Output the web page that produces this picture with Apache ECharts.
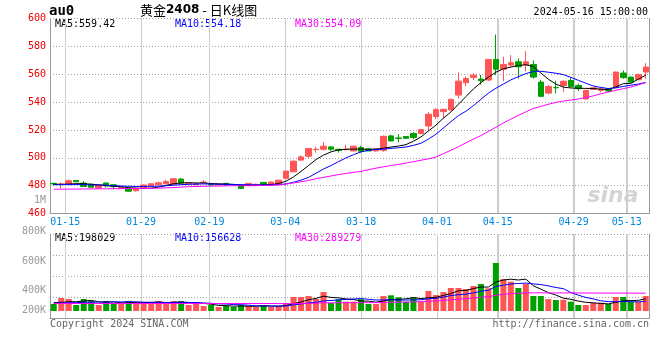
<!DOCTYPE html>
<html><head><meta charset="utf-8">
<script src="https://cdn.jsdelivr.net/npm/echarts@6/dist/echarts.min.js"></script>
<style>html,body{margin:0;padding:0;background:#fff}#c{width:660px;height:360px}</style>
</head><body><div id="c"></div>
<script>
const dates = ['01-11','01-12','01-15','01-16','01-17','01-18','01-19','01-22','01-23','01-24','01-25','01-26','01-29','01-30','01-31',
'02-01','02-02','02-05','02-06','02-07','02-08','02-19','02-20','02-21','02-22','02-23','02-26','02-27','02-28','02-29',
'03-01','03-04','03-05','03-06','03-07','03-08','03-11','03-12','03-13','03-14','03-15','03-18','03-19','03-20','03-21','03-22','03-25','03-26','03-27','03-28','03-29',
'04-01','04-02','04-03','04-08','04-09','04-10','04-11','04-12','04-15','04-16','04-17','04-18','04-19','04-22','04-23','04-24','04-25','04-26','04-29','04-30',
'05-06','05-07','05-08','05-09','05-10','05-13','05-14','05-15','05-16'];
const tickDates = ['01-15','01-29','02-19','03-04','03-18','04-01','04-15','04-29','05-13'];

const openP = [481.7,481.0,481.0,483.8,481.9,481.2,478.4,482.0,480.7,478.0,
478.2,476.4,478.8,480.0,480.7,481.4,481.2,484.8,481.4,480.7,
482.3,481.0,480.6,481.7,480.9,480.0,480.2,480.8,482.4,480.8,
481.0,485.3,490.0,498.4,501.2,505.9,506.2,507.9,506.2,505.9,
505.0,507.4,506.4,505.0,505.5,515.8,514.3,515.3,517.5,517.5,
522.9,529.7,533.2,534.4,545.1,554.0,557.8,556.6,555.9,570.7,
563.7,566.6,569.0,566.6,567.1,554.4,546.5,550.6,552.0,555.6,
552.0,542.3,549.2,548.5,549.7,550.4,560.9,558.0,556.1,561.6];
const closeP = [481.3,481.3,483.6,482.8,479.5,478.9,480.3,479.8,479.4,478.8,
476.1,478.4,480.5,481.4,482.1,483.1,485.0,481.9,481.8,481.4,
482.6,480.5,481.2,480.5,480.6,478.1,481.7,481.0,480.6,482.6,
484.0,490.5,497.6,500.7,506.7,506.2,508.4,506.2,505.3,506.2,
508.4,504.7,505.0,506.4,515.5,512.2,514.0,514.1,514.6,520.3,
531.3,534.6,534.9,542.0,555.1,557.0,559.4,555.4,570.7,563.7,
567.0,568.3,565.4,569.0,558.0,544.2,551.3,550.3,555.0,551.3,
549.7,548.5,550.3,549.5,548.0,561.6,557.6,554.4,559.8,565.2];
const lowP = [479.8,478.1,480.8,482.6,479.3,478.8,478.2,478.8,477.4,477.6,
475.6,475.8,478.6,479.8,480.5,481.2,481.0,481.5,481.0,480.5,
481.5,480.2,480.4,480.3,480.2,477.6,480.0,480.3,480.4,480.6,
480.8,485.0,489.8,498.0,500.0,503.7,505.3,505.0,503.8,505.5,
504.8,503.7,504.8,504.6,504.3,511.8,511.2,513.5,513.5,517.0,
519.7,527.8,528.0,534.0,542.8,551.4,556.0,552.5,555.2,559.4,
555.1,565.0,557.0,562.0,556.9,543.7,545.6,546.3,547.3,550.5,
548.0,542.0,548.8,547.0,547.3,550.0,556.8,554.0,556.0,556.8];
const highP = [482.2,482.3,484.5,484.0,483.4,481.3,480.5,482.2,480.9,479.2,
478.4,478.6,480.8,481.6,483.0,484.2,485.3,485.6,482.2,481.6,
484.0,481.4,481.5,482.0,481.2,480.2,481.9,481.5,482.6,483.2,
484.3,490.8,498.2,501.8,507.0,508.1,511.3,508.3,506.5,509.4,
508.6,508.7,507.0,506.6,516.0,516.7,517.0,515.6,518.4,520.6,
533.0,535.8,535.2,542.5,561.4,558.7,561.0,559.5,570.8,588.6,
572.6,573.8,571.4,576.6,570.0,556.0,552.2,555.4,555.6,557.5,
553.3,548.6,550.6,550.5,549.9,562.0,562.8,558.4,560.6,568.0];

const ma5 = [481.0,481.0,481.2,481.5,481.5,481.0,480.7,480.2,479.6,479.3,
478.6,478.2,478.0,478.3,479.0,480.3,481.4,482.0,482.2,482.0,
482.0,481.6,481.3,481.2,481.0,480.2,480.3,480.3,480.4,480.8,
481.6,483.3,486.3,490.3,494.5,498.8,502.0,504.3,505.8,506.2,
506.3,506.3,506.2,506.3,507.0,507.8,508.5,509.5,512.0,515.0,
519.3,523.5,528.5,533.0,538.5,544.0,549.5,554.0,558.0,561.5,
564.0,565.2,566.3,566.9,565.5,561.0,556.5,553.0,550.8,550.2,
550.0,549.9,549.8,549.3,549.0,551.0,553.3,553.5,556.5,559.4];
const ma10 = [480.8,480.8,480.8,480.9,480.8,480.6,480.5,480.3,480.0,479.8,
479.6,479.5,479.5,479.6,479.7,480.0,480.4,480.8,481.0,481.2,
481.3,481.2,481.1,481.0,480.9,480.8,480.7,480.6,480.6,480.6,
480.8,481.3,482.5,484.0,486.0,489.0,492.0,494.5,497.3,500.0,
502.3,504.3,505.4,506.0,506.3,506.8,507.3,507.8,509.0,510.5,
513.5,517.0,521.5,526.0,530.3,533.5,537.5,542.0,546.5,550.0,
553.0,556.0,558.3,560.5,562.0,562.2,561.5,560.8,559.8,557.8,
555.7,553.6,551.6,550.6,549.8,550.3,551.3,552.2,553.0,554.2];
const ma30 = [477.5,477.5,477.6,477.6,477.7,477.7,477.8,477.8,477.9,477.9,
478.0,478.0,478.1,478.2,478.3,478.5,478.7,479.0,479.3,479.5,
479.6,479.7,479.8,479.9,480.0,480.0,480.0,480.1,480.2,480.3,
480.6,481.2,482.0,482.8,483.8,485.0,486.0,487.0,488.0,488.8,
489.6,490.3,491.5,492.6,493.6,494.5,495.3,496.3,497.3,498.3,
499.3,500.6,503.0,505.5,508.0,510.8,513.5,516.0,519.0,522.0,
525.0,527.8,530.5,533.0,535.5,537.0,538.5,539.8,540.8,541.5,
542.3,543.3,544.5,546.0,547.3,548.5,549.7,550.8,552.4,554.1];

const volume = [113000,211000,194000,97000,194000,162000,97000,162000,130000,113000,
162000,146000,146000,113000,162000,113000,162000,162000,97000,113000,
81000,97000,65000,81000,65000,97000,81000,65000,97000,65000,
81000,130000,227000,227000,243000,194000,308000,130000,190000,151000,
151000,190000,113000,113000,243000,254000,222000,151000,222000,151000,
324000,259000,308000,373000,373000,356000,405000,437000,368000,778000,
518000,475000,373000,437000,243000,243000,194000,178000,183000,151000,
97000,97000,134000,134000,113000,227000,227000,146000,146000,243000];
const volMa5 = [135,140,150,150,161.8,171.6,148.8,142.4,149,132.8,
132.8,142.6,139.4,136,145.8,136,139.2,142.4,139.2,129.4,
123,110,90.6,87.4,77.8,81,77.8,77.8,81,81,
77.8,87.6,120,146,181.6,204.2,239.8,220.4,213,194.6,
186,162.4,159,143.6,162,182.6,189,196.6,218.4,200,
214,221.4,252.8,283,327.4,333.8,363,388.8,387.8,468.8,
501.2,515.2,502.4,516.2,409.2,354.2,298,259,208.2,189.8,
160.6,141.2,132.4,122.6,115,141,167,169.4,171.8,198];
const volMa10 = [125,128,132,135,140,143,145,146,147,147.3,
152.2,145.7,140.9,142.5,139.3,134.4,140.9,140.9,137.6,137.6,
129.5,124.6,116.5,113.3,103.6,102,93.9,84.2,84.2,79.4,
79.4,82.7,98.9,113.5,131.3,141,163.7,170.2,179.5,188.1,
195.1,201.1,189.7,178.3,178.3,184.3,175.7,177.8,181,181,
198.3,205.2,224.7,250.7,263.7,273.9,292.2,320.8,335.4,398.1,
417.5,439.1,445.6,452,439,427.7,406.6,380.7,362.2,299.5,
257.4,219.6,195.7,165.4,152.4,150.8,154.1,150.9,147.2,156.6];
const volMa30 = [122,122,122,122,122,122,122,122,122,122,
122,122,122,122,122,122,122,122,121,121,
121,121,121,121,121,121,121,121,121,121.4,
120.4,117.7,118.8,123.1,124.7,125.8,132.8,131.8,133.8,135,
134.7,136.1,135,135,137.7,142.4,144.4,144.1,148.2,149.5,
157.6,163,171.1,180.8,191.1,199.7,210.5,222.9,232,255.7,
270.3,281.8,286.7,293.7,293.7,295.3,291.5,293.1,292.9,292.9,
292,291,291,291,290,290,290,289.5,289,289.3];

const priceMin = 460, priceMax = 600, priceStep = 20;
const volTickLabels = ['', '200K', '400K', '600K', '800K'];
const volPerPixel = 16200;

const RED = '#ff5555', GREEN = '#00a000';
const MONO = '"DejaVu Sans Mono", monospace';
const GRID_C = '#a0a0a0', AXIS_C = '#999999', VGRID_C = '#cccccc';

const candleData = openP.map((o, i) => [o, closeP[i], lowP[i], highP[i]]);
const volData = volume.map((v, i) => ({value: v, itemStyle: {color: closeP[i] >= openP[i] ? RED : GREEN}}));
const k = a => a.map(v => v * 1000);
const tickIdx = tickDates.map(d => dates.indexOf(d));
const isTick = (idx) => tickIdx.indexOf(idx) >= 0;

const chart = echarts.init(document.getElementById('c'), null, {renderer: 'canvas'});
const dotted = {color: GRID_C, type: [1, 2], width: 1};
const vSplit = {show: true, interval: (i) => isTick(i), lineStyle: {color: VGRID_C, type: 'solid', width: 1}};

const textGraphics = [
  {type: 'text', x: 49, y: 11.5, style: {text: 'au0', font: 'bold 14px ' + MONO, fill: '#000', textVerticalAlign: 'middle'}},
  {type: 'text', x: 140, y: 10, style: {text: '{a|黄金}{b|2408}{a| - 日K线图}', textVerticalAlign: 'middle',
    rich: {a: {fontFamily: '"Noto Sans CJK SC"', fontSize: 13, color: '#000'},
           b: {fontFamily: '"DejaVu Sans"', fontSize: 12, fontWeight: 'bold', color: '#666'}}}},
  {type: 'text', x: 648, y: 12.3, style: {text: '2024-05-16 15:00:00', font: '10px ' + MONO, fill: '#000', textAlign: 'right', textVerticalAlign: 'middle'}},
  {type: 'text', x: 55, y: 24, style: {text: 'MA5:559.42', font: '10px ' + MONO, fill: '#000', textVerticalAlign: 'middle'}},
  {type: 'text', x: 175, y: 24, style: {text: 'MA10:554.18', font: '10px ' + MONO, fill: '#0000ff', textVerticalAlign: 'middle'}},
  {type: 'text', x: 295, y: 24, style: {text: 'MA30:554.09', font: '10px ' + MONO, fill: '#ff00ff', textVerticalAlign: 'middle'}},
  {type: 'text', x: 46, y: 200, style: {text: '1M', font: '10px ' + MONO, fill: '#999', textAlign: 'right', textVerticalAlign: 'middle'}},
  {type: 'text', x: 613, y: 196, style: {text: 'sina', font: 'italic bold 22px "DejaVu Sans"', fill: '#d4d4d4', textAlign: 'center', textVerticalAlign: 'middle'}},
  {type: 'text', x: 55, y: 238.5, style: {text: 'MA5:198029', font: '10px ' + MONO, fill: '#000', textVerticalAlign: 'middle'}},
  {type: 'text', x: 175, y: 238.5, style: {text: 'MA10:156628', font: '10px ' + MONO, fill: '#0000ff', textVerticalAlign: 'middle'}},
  {type: 'text', x: 295, y: 238.5, style: {text: 'MA30:289279', font: '10px ' + MONO, fill: '#ff00ff', textVerticalAlign: 'middle'}},
  {type: 'text', x: 50, y: 324, style: {text: 'Copyright 2024 SINA.COM', font: '10px ' + MONO, fill: '#666', textVerticalAlign: 'middle'}},
  {type: 'text', x: 649, y: 324, style: {text: 'http://finance.sina.com.cn', font: '10px ' + MONO, fill: '#666', textAlign: 'right', textVerticalAlign: 'middle'}}
];

const option = {
  animation: false,
  backgroundColor: '#fff',
  grid: [
    {left: 50, top: 18.6, width: 599.5, height: 195},
    {left: 50, top: 234, width: 599.5, height: 84}
  ],
  xAxis: [
    {type: 'category', gridIndex: 0, position: 'bottom', data: dates, boundaryGap: true, show: false},
    {type: 'category', gridIndex: 0, position: 'bottom', data: dates, boundaryGap: false,
      axisLine: {show: true, onZero: false, lineStyle: {color: AXIS_C}},
      axisTick: {show: false, interval: (i) => isTick(i)},
      axisLabel: {interval: (i) => isTick(i), color: '#0088dd', fontFamily: MONO, fontSize: 10, margin: 4, hideOverlap: false},
      splitLine: vSplit},
    {type: 'category', gridIndex: 1, position: 'bottom', data: dates, boundaryGap: true, show: false},
    {type: 'category', gridIndex: 1, position: 'bottom', data: dates, boundaryGap: false,
      axisLine: {show: true, onZero: false, lineStyle: {color: AXIS_C}},
      axisTick: {show: false, interval: (i) => isTick(i)},
      axisLabel: {show: false, interval: (i) => isTick(i)}, splitLine: vSplit}
  ],
  yAxis: [
    {type: 'value', gridIndex: 0, min: priceMin, max: priceMax, interval: priceStep, position: 'left',
      axisLine: {show: true, lineStyle: {color: AXIS_C}}, axisTick: {show: false},
      axisLabel: {color: '#ee0000', fontFamily: MONO, fontSize: 10, margin: 4},
      splitLine: {show: true, lineStyle: dotted}},
    {type: 'value', gridIndex: 0, min: priceMin, max: priceMax, interval: priceStep, position: 'right',
      axisLine: {show: true, lineStyle: {color: AXIS_C}}, axisTick: {show: false},
      axisLabel: {show: false}, splitLine: {show: false}},
    {type: 'value', gridIndex: 1, min: 0, max: 4, interval: 1, position: 'left',
      axisLine: {show: true, lineStyle: {color: AXIS_C}}, axisTick: {show: false},
      axisLabel: {margin: 4, color: '#999', fontFamily: MONO, fontSize: 10,
        formatter: (v) => volTickLabels[v] ? '{l' + v + '|' + volTickLabels[v] + '}' : '',
        rich: {
          l1: {color: '#999', fontFamily: MONO, fontSize: 10, padding: [26, 0, 0, 0]},
          l2: {color: '#999', fontFamily: MONO, fontSize: 10, padding: [28, 0, 0, 0]},
          l3: {color: '#999', fontFamily: MONO, fontSize: 10, padding: [12, 0, 0, 0]},
          l4: {color: '#999', fontFamily: MONO, fontSize: 10, padding: [0, 0, 6, 0]}
        }},
      splitLine: {show: true, lineStyle: dotted}},
    {type: 'value', gridIndex: 1, min: -7 * volPerPixel, max: 77 * volPerPixel, position: 'right',
      axisLine: {show: true, lineStyle: {color: AXIS_C}}, axisTick: {show: false},
      axisLabel: {show: false}, splitLine: {show: false}}
  ],
  series: [
    {type: 'candlestick', xAxisIndex: 0, yAxisIndex: 0, data: candleData, barWidth: 6, z: 3,
      itemStyle: {color: RED, color0: GREEN, borderColor: RED, borderColor0: GREEN, borderWidth: 1}},
    {type: 'line', xAxisIndex: 0, yAxisIndex: 0, data: ma5, symbol: 'none', z: 4, lineStyle: {color: '#000', width: 1}},
    {type: 'line', xAxisIndex: 0, yAxisIndex: 0, data: ma10, symbol: 'none', z: 4, lineStyle: {color: '#0000ff', width: 1}},
    {type: 'line', xAxisIndex: 0, yAxisIndex: 0, data: ma30, symbol: 'none', z: 4, lineStyle: {color: '#ff00ff', width: 1}},
    {type: 'bar', xAxisIndex: 2, yAxisIndex: 3, data: volData, barWidth: 6, z: 3},
    {type: 'line', xAxisIndex: 2, yAxisIndex: 3, data: k(volMa5), symbol: 'none', z: 4, lineStyle: {color: '#000', width: 1}},
    {type: 'line', xAxisIndex: 2, yAxisIndex: 3, data: k(volMa10), symbol: 'none', z: 4, lineStyle: {color: '#0000ff', width: 1}},
    {type: 'line', xAxisIndex: 2, yAxisIndex: 3, data: k(volMa30), symbol: 'none', z: 4, lineStyle: {color: '#ff00ff', width: 1}}
  ],
  graphic: textGraphics
};
chart.setOption(option);

// extra safeguard: vertical grid lines placed with the axes' own scales
try {
  const px = (finder, v) => { let p = chart.convertToPixel(finder, v); if (Array.isArray(p)) p = p[0]; return p; };
  const lineGraphics = [];
  const panels = [
    {x: {xAxisIndex: 1}, y: {yAxisIndex: 0}, lo: priceMin, hi: priceMax},
    {x: {xAxisIndex: 3}, y: {yAxisIndex: 2}, lo: 0, hi: volTickLabels.length - 1}
  ];
  panels.forEach(pn => {
    const yTop = Math.round(px(pn.y, pn.hi));
    const yBot = Math.round(px(pn.y, pn.lo));
    tickIdx.forEach(i => {
      const xv = px(pn.x, i);
      if (!isFinite(xv) || !isFinite(yTop) || !isFinite(yBot)) return;
      const x = Math.round(xv) + 0.5;
      lineGraphics.push({type: 'line', silent: true, z: -10,
        shape: {x1: x, y1: yTop, x2: x, y2: yBot},
        style: {stroke: VGRID_C, lineWidth: 1}});
    });
  });
  chart.setOption({graphic: textGraphics.concat(lineGraphics)});
} catch (e) {}
</script></body></html>
